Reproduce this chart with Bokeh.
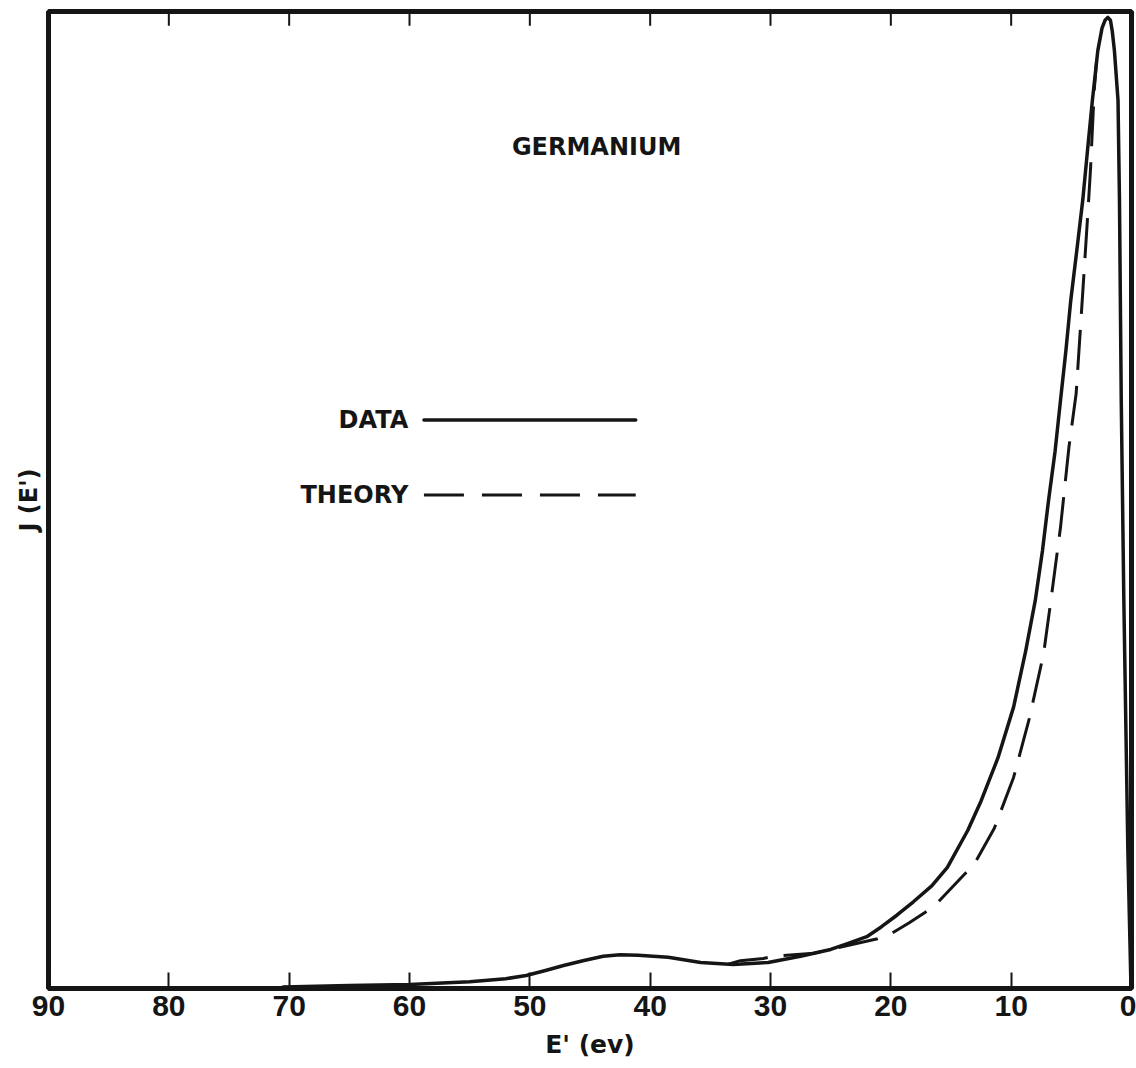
from bokeh.plotting import figure
from bokeh.models import Range1d, FixedTicker, LinearAxis, Label
from bokeh.embed import file_html
from bokeh.resources import INLINE

# ---- data (E' in eV, J in arbitrary units 0-100) ----
data_E = [70.5, 65, 60, 55, 52, 50.3, 48.7, 47.2, 45.5, 43.9, 42.5, 41, 38.5,
          35.8, 33.1, 30.2, 27.5, 25, 23.6, 22.0, 20.8, 19.5, 18.1, 16.6, 15.3,
          13.6, 12.5, 11.1, 9.8, 8.8, 8.0, 7.4, 6.9, 6.35, 5.9, 5.45, 5.05, 4.55,
          4.05, 3.6, 3.25, 2.8, 2.45, 2.2, 1.97, 1.75, 1.6, 1.42, 1.12, 1.0,
          0.85, 0.64, 0.3, 0.05]
data_J = [0.15, 0.3, 0.4, 0.7, 1.0, 1.33, 1.84, 2.35, 2.87, 3.3, 3.45, 3.4,
          3.2, 2.66, 2.46, 2.66, 3.3, 4.0, 4.6, 5.3, 6.3, 7.5, 8.9, 10.5, 12.4,
          16.2, 19.2, 23.6, 28.8, 34.5, 39.7, 44.8, 49.9, 55.0, 60.2, 65.3, 70.4,
          75.5, 80.7, 86.5, 90.9, 96.0, 98.3, 99.1, 99.4, 99.1, 98.0, 96.0, 90.9,
          80.7, 60.0, 40.0, 14.0, 0.5]

theory_E = [33.5, 32.5, 30.6, 29.7, 26.4, 23.6, 21.1, 20.0, 18.5, 16.9, 16.1,
            13.8, 12.9, 11.4, 9.8, 8.5, 7.3, 6.7, 5.9, 5.2, 4.6, 4.2, 3.6, 3.4,
            3.1, 2.9]
theory_J = [2.5, 2.85, 3.07, 3.3, 3.6, 4.4, 5.1, 5.6, 6.7, 8.0, 8.8, 11.8,
            13.1, 16.4, 21.6, 27.6, 34.3, 39.7, 47.2, 55.4, 60.9, 68.4, 79.9,
            84.0, 91.9, 95.0]

x_ticks = [90, 80, 70, 60, 50, 40, 30, 20, 10, 0]
x_tick_labels = ["90", "80", "70", "60", "50", "40", "30", "20", "10", "0"]

title_text = "GERMANIUM"
x_title = "E' (ev)"
y_title = "J (E')"
legend_names = ["DATA", "THEORY"]

# ---- layout / style ----
INK = "#151515"
FONT = "DejaVu Sans"
Y_MAX = 100
TOP_TICK_LEN = 1.45  # in data units (~14 px)

p = figure(width=1136, height=1068, output_backend="svg", toolbar_location=None,
           x_range=Range1d(90, 0), y_range=Range1d(0, Y_MAX),
           min_border_left=48, min_border_right=5, min_border_top=11,
           min_border_bottom=80, x_axis_location=None, y_axis_location=None)
p.background_fill_color = "white"
p.border_fill_color = "white"
p.grid.visible = False
p.outline_line_color = INK
p.outline_line_width = 5

# bottom axis with labels, inward ticks
xb = LinearAxis(ticker=FixedTicker(ticks=x_ticks))
xb.major_label_overrides = dict(zip(x_ticks, x_tick_labels))
xb.major_tick_in = 16
xb.major_tick_out = 0
xb.major_tick_line_width = 2
xb.major_tick_line_color = INK
xb.minor_tick_line_color = None
xb.axis_line_color = None
xb.major_label_text_font = "Liberation Sans"
xb.major_label_text_font_style = "bold"
xb.major_label_text_font_size = "30px"
xb.major_label_text_color = INK
xb.major_label_standoff = 7
xb.axis_label = x_title
xb.axis_label_text_font = FONT
xb.axis_label_text_font_style = "bold"
xb.axis_label_text_font_size = "25px"
xb.axis_label_text_color = INK
xb.axis_label_standoff = 11
p.add_layout(xb, "below")

# top ticks (inward) drawn at the tick values
p.segment(x0=x_ticks[1:-1], x1=x_ticks[1:-1],
          y0=[Y_MAX] * (len(x_ticks) - 2), y1=[Y_MAX - TOP_TICK_LEN] * (len(x_ticks) - 2),
          line_color=INK, line_width=2)

# left axis: label only
yl = LinearAxis(ticker=FixedTicker(ticks=[]))
yl.major_tick_line_color = None
yl.minor_tick_line_color = None
yl.axis_line_color = None
yl.major_label_standoff = 0
yl.axis_label = y_title
yl.axis_label_text_font = FONT
yl.axis_label_text_font_style = "bold"
yl.axis_label_text_font_size = "24px"
yl.axis_label_text_color = INK
yl.axis_label_standoff = 6
p.add_layout(yl, "left")

# curves
p.line(data_E, data_J, line_color=INK, line_width=3.5, line_join="round", line_cap="round")
p.line(theory_E, theory_J, line_color=INK, line_width=3, line_dash="40 16", line_join="round")

# legend (text left of sample line)
leg_x0, leg_x1 = 58.8, 41.2
leg_y = [58.2, 50.5]
p.line([leg_x0, leg_x1], [leg_y[0], leg_y[0]], line_color=INK, line_width=3.5, line_cap="round")
p.line([leg_x0, leg_x1], [leg_y[1], leg_y[1]], line_color=INK, line_width=3, line_dash="40 18")
for name, yy in zip(legend_names, leg_y):
    p.add_layout(Label(x=60.1, y=yy, text=name, text_align="right", text_baseline="middle",
                       text_font=FONT, text_font_style="bold", text_font_size="24px",
                       text_color=INK))

p.add_layout(Label(x=44.45, y=86.1, text=title_text, text_align="center",
                   text_baseline="middle", text_font=FONT, text_font_style="bold",
                   text_font_size="24px", text_color=INK))

open("out.html", "w").write(file_html(p, INLINE))
